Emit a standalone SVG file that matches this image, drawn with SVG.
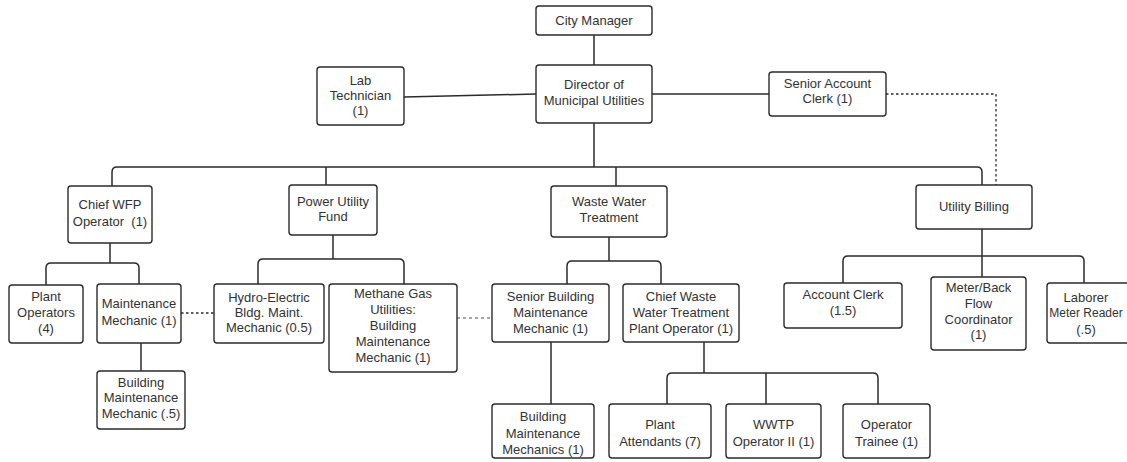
<svg xmlns="http://www.w3.org/2000/svg" width="1127" height="462" viewBox="0 0 1127 462">
<style>
.box{fill:#fff;stroke:#2b2b2b;stroke-width:1.4}
.t{font-family:"Liberation Sans",Arial,sans-serif;font-size:13px;fill:#333;text-anchor:middle}
.ln{fill:none;stroke:#2b2b2b;stroke-width:1.5}
.dot{fill:none;stroke:#2b2b2b;stroke-width:1.3;stroke-dasharray:2.5 2.5}
.dotg{fill:none;stroke:#888;stroke-width:1.3;stroke-dasharray:3 3}
</style>
<rect width="1127" height="462" fill="#fff"/>
<g id="connectors">
<path class="ln" d="M594,35 V65"/>
<path class="ln" d="M404,97 L536,94"/>
<path class="ln" d="M652,94 H769"/>
<path class="dot" d="M886,94 H996 V185"/>
<path class="ln" d="M594,123 V167"/>
<path class="ln" d="M112,186 V172 Q112,167 117,167 H977 Q982,167 982,172 V185"/>
<path class="ln" d="M326,167 V185"/>
<path class="ln" d="M616,167 V186"/>
<path class="ln" d="M110,243 V263"/>
<path class="ln" d="M46,285 V268 Q46,263 51,263 H134 Q139,263 139,268 V284"/>
<path class="ln" d="M141,343 V371"/>
<path class="dot" d="M181,313 H214"/>
<path class="ln" d="M333,235 V259"/>
<path class="ln" d="M258,284 V264 Q258,259 263,259 H399 Q404,259 404,264 V284"/>
<path class="dotg" d="M457,318 H492"/>
<path class="ln" d="M609,237 V261"/>
<path class="ln" d="M567,284 V266 Q567,261 572,261 H656 Q661,261 661,266 V284"/>
<path class="ln" d="M551,342 V404"/>
<path class="ln" d="M704,342 V373"/>
<path class="ln" d="M667,404 V378 Q667,373 672,373 H873 Q878,373 878,378 V404"/>
<path class="ln" d="M766,373 V404"/>
<path class="ln" d="M982,229 V256"/>
<path class="ln" d="M843,283 V261 Q843,256 848,256 H1079 Q1084,256 1084,261 V283"/>
<path class="ln" d="M982,256 V277"/>
</g>
<g id="city-manager"><rect class="box" x="536" y="6" width="116" height="29" rx="3"/><text class="t" x="594" y="25">City Manager</text></g>
<g id="director"><rect class="box" x="536" y="65" width="116" height="58" rx="3"/><text class="t" x="594" y="89">Director of</text><text class="t" x="594" y="105">Municipal Utilities</text></g>
<g id="lab-technician"><rect class="box" x="317" y="67" width="87" height="58" rx="3"/><text class="t" x="360.5" y="85">Lab</text><text class="t" x="360.5" y="100">Technician</text><text class="t" x="360.5" y="115">(1)</text></g>
<g id="senior-account-clerk"><rect class="box" x="769" y="72" width="117" height="44" rx="3"/><text class="t" x="827.5" y="87.5">Senior Account</text><text class="t" x="827.5" y="103">Clerk (1)</text></g>
<g id="chief-wfp"><rect class="box" x="68" y="186" width="84" height="57" rx="3"/><text class="t" x="110" y="208.5" xml:space="preserve">Chief WFP</text><text class="t" x="110" y="225.5" xml:space="preserve">Operator  (1)</text></g>
<g id="power-utility-fund"><rect class="box" x="289" y="185" width="88" height="50" rx="3"/><text class="t" x="333" y="206">Power Utility</text><text class="t" x="333" y="221">Fund</text></g>
<g id="waste-water-treatment"><rect class="box" x="551" y="186" width="116" height="51" rx="3"/><text class="t" x="609" y="205.5">Waste Water</text><text class="t" x="609" y="221.5">Treatment</text></g>
<g id="utility-billing"><rect class="box" x="916" y="185" width="116" height="44" rx="3"/><text class="t" x="974" y="211">Utility Billing</text></g>
<g id="plant-operators"><rect class="box" x="9" y="285" width="74" height="58" rx="3"/><text class="t" x="46" y="300.5">Plant</text><text class="t" x="46" y="316.5">Operators</text><text class="t" x="46" y="332.5">(4)</text></g>
<g id="maintenance-mechanic"><rect class="box" x="97" y="284" width="84" height="59" rx="3"/><text class="t" x="139" y="308">Maintenance</text><text class="t" x="139" y="325">Mechanic (1)</text></g>
<g id="building-maintenance-mechanic-5"><rect class="box" x="97" y="371" width="88" height="58" rx="3"/><text class="t" x="141" y="386.5">Building</text><text class="t" x="141" y="402">Maintenance</text><text class="t" x="141" y="417.5">Mechanic (.5)</text></g>
<g id="hydro-electric"><rect class="box" x="214" y="284" width="110" height="59" rx="3"/><text class="t" x="269" y="301.5">Hydro-Electric</text><text class="t" x="269" y="316.5">Bldg. Maint.</text><text class="t" x="269" y="331.5">Mechanic (0.5)</text></g>
<g id="methane-gas"><rect class="box" x="329" y="284" width="128" height="88" rx="3"/><text class="t" x="393" y="297.5">Methane Gas</text><text class="t" x="393" y="314">Utilities:</text><text class="t" x="393" y="330">Building</text><text class="t" x="393" y="346">Maintenance</text><text class="t" x="393" y="361.5">Mechanic (1)</text></g>
<g id="senior-building-maintenance"><rect class="box" x="492" y="284" width="117" height="58" rx="3"/><text class="t" x="550.5" y="300.5">Senior Building</text><text class="t" x="550.5" y="316.5">Maintenance</text><text class="t" x="550.5" y="332.5">Mechanic (1)</text></g>
<g id="chief-waste-water"><rect class="box" x="623" y="284" width="116" height="58" rx="3"/><text class="t" x="681" y="300.5">Chief Waste</text><text class="t" x="681" y="316.5">Water Treatment</text><text class="t" x="681" y="332.5">Plant Operator (1)</text></g>
<g id="account-clerk"><rect class="box" x="784" y="283" width="118" height="45" rx="3"/><text class="t" x="843" y="298.5">Account Clerk</text><text class="t" x="843" y="315">(1.5)</text></g>
<g id="meter-back-flow"><rect class="box" x="931" y="277" width="95" height="73" rx="3"/><text class="t" x="978.5" y="291.5">Meter/Back</text><text class="t" x="978.5" y="307.5">Flow</text><text class="t" x="978.5" y="323.5">Coordinator</text><text class="t" x="978.5" y="338.5">(1)</text></g>
<g id="laborer-meter-reader"><rect class="box" x="1047" y="283" width="90" height="60" rx="3"/><text class="t" x="1086" y="301.5">Laborer</text><text class="t" x="1086" y="317" style="font-size:12px">Meter Reader</text><text class="t" x="1086" y="333.5">(.5)</text></g>
<g id="building-maintenance-mechanics"><rect class="box" x="492" y="404" width="102" height="54" rx="3"/><text class="t" x="543" y="420.5">Building</text><text class="t" x="543" y="437.5">Maintenance</text><text class="t" x="543" y="454">Mechanics (1)</text></g>
<g id="plant-attendants"><rect class="box" x="609" y="404" width="102" height="54" rx="3"/><text class="t" x="660" y="428.5">Plant</text><text class="t" x="660" y="445.5">Attendants (7)</text></g>
<g id="wwtp-operator"><rect class="box" x="726" y="404" width="95" height="54" rx="3"/><text class="t" x="773.5" y="428.5">WWTP</text><text class="t" x="773.5" y="445.5">Operator II (1)</text></g>
<g id="operator-trainee"><rect class="box" x="843" y="404" width="87" height="54" rx="3"/><text class="t" x="886.5" y="428.5">Operator</text><text class="t" x="886.5" y="445.5">Trainee (1)</text></g>
</svg>
